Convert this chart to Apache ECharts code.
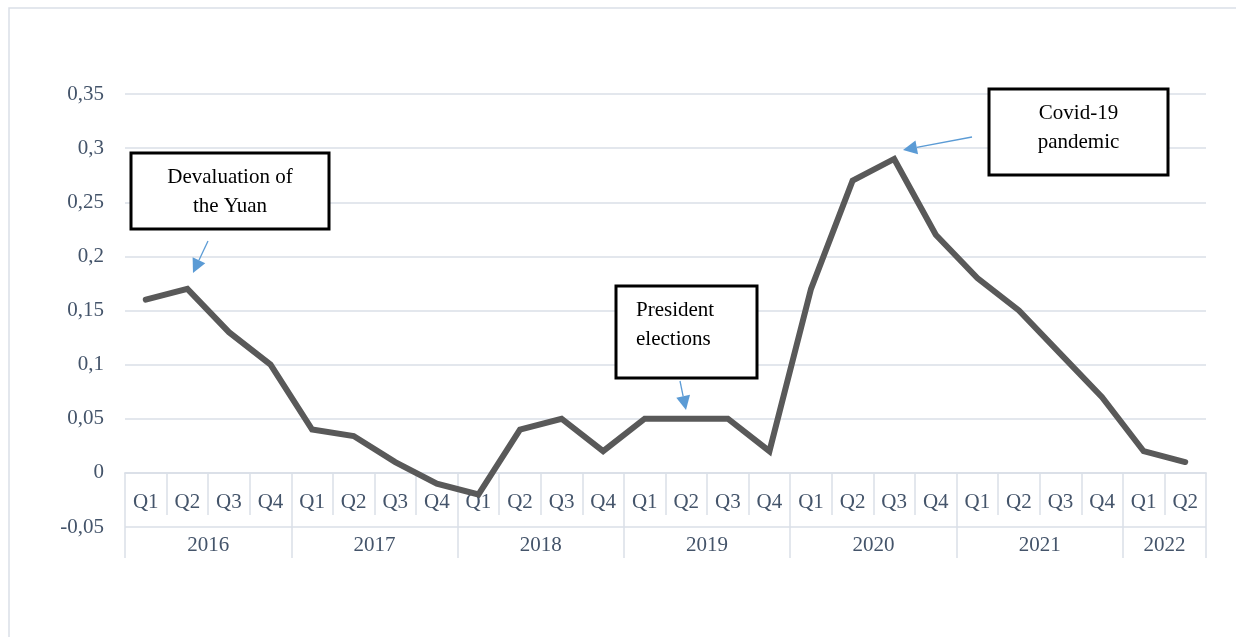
<!DOCTYPE html>
<html>
<head>
<meta charset="utf-8">
<script src="https://cdn.jsdelivr.net/npm/echarts@6/dist/echarts.min.js"></script>
<style>
  html, body { margin: 0; padding: 0; background: #fff; }
  #chart { width: 1236px; height: 637px; }
</style>
</head>
<body>
<div id="chart"></div>
<script>
// quarters along the x axis
const quarters = [
  'Q1', 'Q2', 'Q3', 'Q4', 'Q1', 'Q2', 'Q3', 'Q4', 'Q1', 'Q2', 'Q3', 'Q4',
  'Q1', 'Q2', 'Q3', 'Q4', 'Q1', 'Q2', 'Q3', 'Q4', 'Q1', 'Q2', 'Q3', 'Q4',
  'Q1', 'Q2'
];
const years = ['2016', '2017', '2018', '2019', '2020', '2021', '2022'];
const yearStarts = [0, 4, 8, 12, 16, 20, 24, 26];   // boundaries in quarter units
const yearCenters = [2, 6, 10, 14, 18, 22, 25];

const values = [
  0.16, 0.17, 0.13, 0.10,
  0.04, 0.034, 0.01, -0.01,
  -0.02, 0.04, 0.05, 0.02,
  0.05, 0.05, 0.05, 0.02,
  0.17, 0.27, 0.29, 0.22,
  0.18, 0.15, 0.11, 0.07,
  0.02, 0.01
];

const gridColor = '#dadfe7';
const labelColor = '#44546a';
const serif = '"Liberation Serif", "DejaVu Serif", serif';

// little helper for the blue arrows
function arrow(x1, y1, x2, y2) {
  const ang = Math.atan2(y2 - y1, x2 - x1);
  const len = 14, half = 7;
  const bx = x2 - Math.cos(ang) * len, by = y2 - Math.sin(ang) * len;
  const px = -Math.sin(ang) * half, py = Math.cos(ang) * half;
  return [
    { type: 'line', z: 100, shape: { x1: x1, y1: y1, x2: bx, y2: by }, style: { stroke: '#5b9bd5', lineWidth: 1.3 } },
    { type: 'polygon', z: 100, shape: { points: [[x2, y2], [bx + px, by + py], [bx - px, by - py]] }, style: { fill: '#5b9bd5' } }
  ];
}

function box(x, y, w, h, text, align) {
  return [
    { type: 'rect', z: 100, shape: { x: x, y: y, width: w, height: h }, style: { fill: '#fff', stroke: '#000', lineWidth: 3 } },
    {
      type: 'text',
      z: 101,
      x: align === 'left' ? x + 20 : x + w / 2,
      y: y + 10,
      style: {
        text: text, fill: '#000', font: '21px ' + serif,
        textAlign: align === 'left' ? 'left' : 'center', textVerticalAlign: 'top', lineHeight: 29
      }
    }
  ];
}

const chart = echarts.init(document.getElementById('chart'));

const option = {
  animation: false,
  grid: { left: 125, right: 30, top: 94, bottom: 110 },
  xAxis: [
    {
      type: 'category',
      data: quarters,
      position: 'bottom',
      boundaryGap: true,
      axisLine: { onZero: true, lineStyle: { color: gridColor, width: 1.5 } },
      axisTick: { show: true, interval: 0, length: 42, lineStyle: { color: gridColor, width: 1.5 } },
      axisLabel: { interval: 0, margin: -35, color: labelColor, fontSize: 21, fontFamily: serif },
      splitLine: { show: false }
    },
    {
      type: 'value',
      min: 0,
      max: 26,
      position: 'bottom',
      offset: -54,
      axisLine: { onZero: false, lineStyle: { color: gridColor, width: 1.5 } },
      axisTick: { show: true, length: 85, customValues: yearStarts, lineStyle: { color: gridColor, width: 1.5 } },
      axisLabel: {
        customValues: yearCenters,
        margin: 62,
        color: labelColor, fontSize: 21, fontFamily: serif,
        formatter: function (v) {
          const i = yearCenters.indexOf(v);
          return i >= 0 ? years[i] : '';
        }
      },
      splitLine: { show: false }
    }
  ],
  yAxis: {
    type: 'value',
    min: -0.05,
    max: 0.35,
    interval: 0.05,
    axisLine: { show: false, onZero: false },
    axisTick: { show: false },
    axisLabel: {
      margin: 21, color: labelColor, fontSize: 21, fontFamily: serif,
      formatter: function (v) {
        return String(Math.round(v * 100) / 100).replace('.', ',');
      }
    },
    splitLine: { lineStyle: { color: gridColor, width: 1.5 } }
  },
  series: [
    {
      type: 'line',
      data: values,
      xAxisIndex: 0,
      symbol: 'none',
      z: 3,
      lineStyle: { color: '#595959', width: 6, cap: 'round', join: 'miter' }
    }
  ],
  graphic: [
    { type: 'rect', z: 100, shape: { x: 9, y: 8, width: 1300, height: 700 }, style: { fill: 'none', stroke: gridColor, lineWidth: 1.5 } }
  ]
    .concat(arrow(208, 241, 193, 273))
    .concat(arrow(680, 381, 686, 410))
    .concat(arrow(972, 137, 903, 150))
    .concat(box(131, 153, 198, 76, 'Devaluation of\nthe Yuan'))
    .concat(box(616, 286, 141, 92, 'President\nelections', 'left'))
    .concat(box(989, 89, 179, 86, 'Covid-19\npandemic'))
};

chart.setOption(option);
</script>
</body>
</html>
